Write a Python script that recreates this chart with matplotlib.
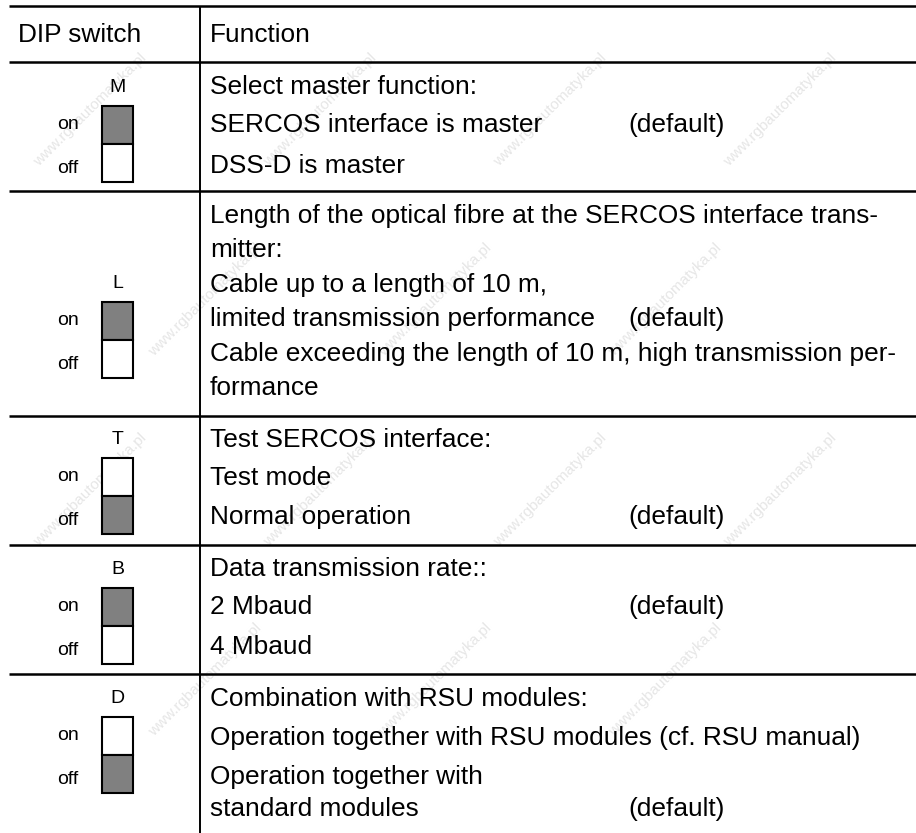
import matplotlib.pyplot as plt
from matplotlib.patches import Rectangle

plt.rcParams['font.family'] = ['Liberation Sans', 'DejaVu Sans']

# table content
header = ["DIP switch", "Function"]
switch_names = ["M", "L", "T", "B", "D"]
switch_set = ["on", "on", "off", "on", "off"]   # half of the switch that is shaded
functions = [
    ["Select master function:",
     "SERCOS interface is master",
     "DSS-D is master"],
    ["Length of the optical fibre at the SERCOS interface trans-",
     "mitter:",
     "Cable up to a length of 10 m,",
     "limited transmission performance",
     "Cable exceeding the length of 10 m, high transmission per-",
     "formance"],
    ["Test SERCOS interface:",
     "Test mode",
     "Normal operation"],
    ["Data transmission rate::",
     "2 Mbaud",
     "4 Mbaud"],
    ["Combination with RSU modules:",
     "Operation together with RSU modules (cf. RSU manual)",
     "Operation together with",
     "standard modules"],
]
default_line = [1, 3, 2, 1, 3]   # line that carries "(default)"

# layout (pixel coords, y grows downward)
W, H = 916, 833
row_lines = [62, 191, 416, 545, 674]
line_y = [[86, 124, 165],
          [215, 249, 284, 318, 353, 387],
          [439, 477, 516],
          [568, 606, 646],
          [698, 737, 776, 808]]
box_top = [106, 302, 458, 588, 717]
box_x, box_w, box_h = 102, 31, 76
col_x = 200
txt_x = 210
default_x = 628
big = 18.9
small = 14

fig = plt.figure(figsize=(W / 100, H / 100), dpi=100, facecolor='white')
ax = fig.add_axes([0, 0, 1, 1])
ax.set_xlim(0, W)
ax.set_ylim(H, 0)
ax.axis('off')

# faint watermark
for j, wy in enumerate(range(110, H - 60, 190)):
    for wx in range(90 + (j % 2) * 115, W - 60, 230):
        ax.text(wx, wy, "www.rgbautomatyka.pl", rotation=45, fontsize=11,
                color='#e6e6e6', ha='center', va='center', zorder=0)

# grid lines
ax.hlines([6] + row_lines, 9, W, color='black', lw=1.8, zorder=3)
ax.vlines(col_x, 6, H, color='black', lw=1.4, zorder=3)

# header
ax.text(18, 42, header[0], fontsize=big, va='baseline', zorder=4)
ax.text(txt_x, 42, header[1], fontsize=big, va='baseline', zorder=4)

for i, name in enumerate(switch_names):
    top = box_top[i]
    cx = box_x + box_w / 2
    ax.text(cx, top - 14, name, fontsize=small, ha='center', va='baseline', zorder=4)
    ax.text(57, top + 23, "on", fontsize=small, va='baseline', zorder=4)
    ax.text(57, top + 67, "off", fontsize=small, va='baseline', zorder=4)
    on_fc = '#808080' if switch_set[i] == "on" else 'white'
    off_fc = '#808080' if switch_set[i] == "off" else 'white'
    ax.add_patch(Rectangle((box_x, top), box_w, box_h / 2, facecolor=on_fc,
                           edgecolor='black', lw=1.5, zorder=4))
    ax.add_patch(Rectangle((box_x, top + box_h / 2), box_w, box_h / 2, facecolor=off_fc,
                           edgecolor='black', lw=1.5, zorder=4))

    for k, line in enumerate(functions[i]):
        y = line_y[i][k] + 8
        ax.text(txt_x, y, line, fontsize=big, va='baseline', zorder=4)
        if k == default_line[i]:
            ax.text(default_x, y, "(default)", fontsize=big, va='baseline', zorder=4)

fig.savefig("out.png", dpi=100, facecolor='white')
